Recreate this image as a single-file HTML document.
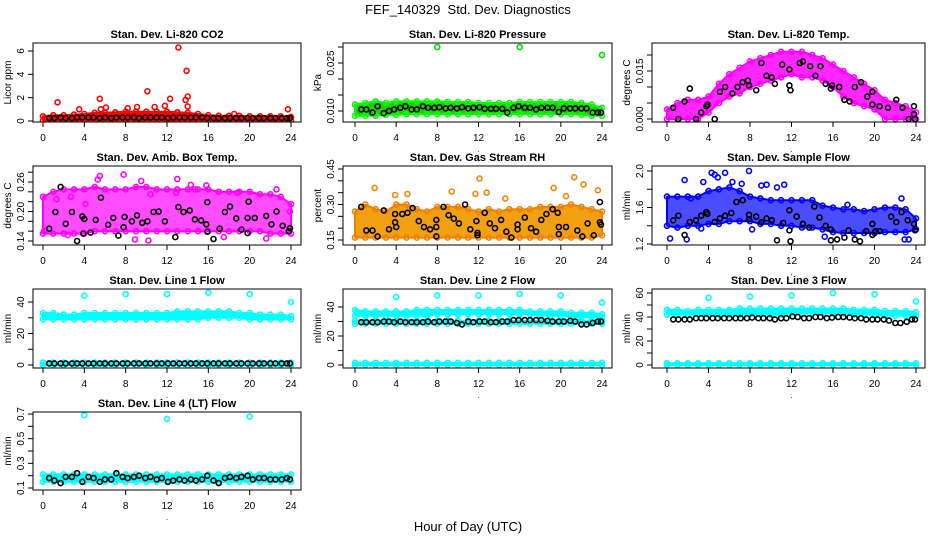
<!DOCTYPE html>
<html><head><meta charset="utf-8"><style>
body{margin:0;background:#fff;}
svg{font-family:"Liberation Sans",sans-serif;}
</style></head><body>
<svg id="c" width="936" height="540" viewBox="0 0 936 540" xmlns="http://www.w3.org/2000/svg">
<text x="468" y="14" text-anchor="middle" font-size="13" style="white-space:pre">FEF_140329  Std. Dev. Diagnostics</text>
<text x="468" y="531" text-anchor="middle" font-size="13">Hour of Day (UTC)</text>
</svg>
<script>
// ---- data ----
const bandHours=[0,1,2,3,4,5,6,7,8,9,10,11,12,13,14,15,16,17,18,19,20,21,22,23,24];
const blackHours=[0.6,1.1,1.7,2.2,2.8,3.3,3.8,4.4,4.9,5.5,6.0,6.6,7.1,7.7,8.2,8.8,9.3,9.9,10.4,11.0,11.5,12.1,12.6,13.2,13.7,14.3,14.8,15.4,15.9,16.5,17.0,17.6,18.1,18.7,19.2,19.8,20.3,20.9,21.4,22.0,22.5,23.1,23.6,23.9];

const co2Lo=[0.05,0.05,0.05,0.05,0.05,0.05,0.05,0.05,0.05,0.05,0.05,0.05,0.05,0.05,0.05,0.05,0.05,0.05,0.05,0.05,0.05,0.05,0.05,0.05,0.05];
const co2Hi=[0.4,0.5,0.5,0.55,0.6,0.7,0.7,0.75,0.8,0.8,0.8,0.8,0.8,0.75,0.7,0.6,0.5,0.45,0.45,0.45,0.4,0.4,0.4,0.4,0.35];
const co2Black=[0.25,0.25,0.3,0.25,0.25,0.3,0.3,0.3,0.3,0.25,0.3,0.25,0.3,0.3,0.3,0.3,0.25,0.3,0.3,0.3,0.3,0.25,0.3,0.3,0.3,0.3,0.3,0.3,0.25,0.25,0.25,0.25,0.25,0.25,0.25,0.25,0.25,0.25,0.25,0.25,0.25,0.25,0.25,0.25];
const co2OutH=[1.4,3.5,5.5,5.6,6.1,8.2,9.1,10.1,10.8,11.8,12.3,13.1,13.9,13.8,14.0,14.0,18.5,23.7];
const co2OutV=[1.6,1.0,1.9,1.0,1.15,1.1,1.2,2.55,1.2,1.3,1.9,6.3,4.3,1.8,2.1,1.25,0.6,1.0];

const presLo=[0.0085,0.0085,0.0085,0.0088,0.0088,0.009,0.009,0.009,0.009,0.009,0.009,0.009,0.009,0.009,0.009,0.009,0.009,0.009,0.009,0.009,0.009,0.009,0.0088,0.0085,0.0085];
const presHi=[0.012,0.0125,0.013,0.0125,0.013,0.013,0.013,0.013,0.013,0.0128,0.0128,0.0128,0.0125,0.0125,0.0125,0.0125,0.0128,0.0128,0.0128,0.0128,0.0128,0.0128,0.0125,0.012,0.011];
const presBlack=[0.0105,0.0105,0.0095,0.0115,0.0093,0.01,0.0105,0.011,0.0115,0.0105,0.0105,0.0115,0.011,0.011,0.0112,0.0108,0.011,0.0108,0.0112,0.0108,0.011,0.0112,0.0107,0.0107,0.0107,0.0107,0.0095,0.011,0.0115,0.011,0.011,0.0105,0.011,0.011,0.011,0.0097,0.0108,0.0108,0.0108,0.0108,0.0108,0.0095,0.0095,0.0095];
const presOutH=[8.0,16.0,24.0];
const presOutV=[0.030,0.030,0.0275];

const tempLo=[0,0,0,0,0.002,0.005,0.007,0.008,0.010,0.011,0.012,0.013,0.014,0.013,0.013,0.012,0.010,0.007,0.005,0.004,0.003,0,0,0,0];
const tempHi=[0.003,0.005,0.006,0.006,0.007,0.011,0.014,0.016,0.018,0.019,0.020,0.021,0.021,0.021,0.020,0.019,0.017,0.015,0.013,0.011,0.009,0.006,0.005,0.004,0.002];
const tempBlackH=[0.6,1.1,2.2,1.7,2.8,3.3,3.8,3.9,4.6,5.1,5.6,6.3,6.8,7.3,7.8,7.9,8.6,9.1,9.6,10.1,10.4,11.1,11.8,11.8,11.9,12.8,13.1,13.8,14.3,14.8,15.3,15.8,15.9,16.6,17.1,17.6,18.1,18.7,19.3,19.8,19.8,20.5,21.3,22.1,22.7,23.3,23.8,23.8,23.9];
const tempBlackV=[0.0035,0,0.0095,0.0055,0,0.002,0.004,0.0045,0,0.0085,0.010,0.008,0.010,0.0115,0.012,0.0105,0.009,0.0175,0.0135,0.013,0.011,0.017,0.0155,0.0105,0.009,0.0175,0.018,0.0165,0.0135,0.0165,0.011,0.0095,0.0105,0.010,0.006,0.0055,0.010,0.0115,0.007,0.0085,0.0045,0.004,0.0035,0.006,0.0035,0,0.004,0.0015,0];

const ambLo=[0.155,0.155,0.155,0.155,0.155,0.16,0.16,0.16,0.16,0.16,0.16,0.16,0.16,0.16,0.16,0.16,0.16,0.16,0.16,0.16,0.16,0.16,0.155,0.155,0.155];
const ambHi=[0.23,0.24,0.245,0.245,0.245,0.25,0.245,0.245,0.245,0.25,0.25,0.245,0.245,0.245,0.245,0.245,0.245,0.24,0.24,0.24,0.24,0.235,0.235,0.23,0.215];
const ambBlackH=[0.6,1.2,1.7,2.2,2.8,3.3,3.8,3.9,4.0,4.6,5.1,5.6,6.3,6.8,7.3,7.8,7.9,8.6,9.1,9.6,10.1,10.7,11.2,11.8,12.8,13.1,13.6,14.2,14.7,15.3,15.8,15.9,15.9,16.5,17.1,17.6,18.1,18.7,19.2,19.8,19.8,19.9,20.5,21.6,22.1,22.6,23.2,23.8,23.9];
const ambBlackV=[0.165,0.199,0.25,0.175,0.199,0.14,0.19,0.155,0.185,0.157,0.183,0.228,0.173,0.187,0.151,0.168,0.189,0.18,0.192,0.177,0.18,0.199,0.2,0.18,0.148,0.209,0.199,0.202,0.184,0.182,0.174,0.219,0.159,0.144,0.165,0.199,0.21,0.186,0.163,0.156,0.187,0.22,0.187,0.191,0.174,0.2,0.171,0.16,0.166];
const ambOutH=[0.1,1.3,2.4,2.7,4.1,5.3,5.5,7.8,8.9,10.2,9.5,10.4,13.0,12.9,14.3,14.7,15.8,17.5,18.8,21.6,22.6,23.9];
const ambOutV=[0.16,0.225,0.152,0.23,0.215,0.265,0.272,0.275,0.143,0.141,0.262,0.235,0.266,0.238,0.254,0.245,0.253,0.148,0.238,0.145,0.245,0.2];

const rhLo=[0.16,0.16,0.16,0.16,0.16,0.16,0.16,0.16,0.16,0.16,0.16,0.16,0.16,0.16,0.16,0.16,0.16,0.16,0.16,0.16,0.16,0.16,0.16,0.16,0.17];
const rhHi=[0.27,0.3,0.28,0.27,0.3,0.3,0.28,0.27,0.29,0.29,0.29,0.28,0.27,0.28,0.27,0.28,0.28,0.28,0.29,0.29,0.29,0.3,0.29,0.28,0.27];
const rhBlackH=[0.6,1.1,1.7,2.2,2.8,3.3,3.9,3.9,4.0,4.6,5.1,5.6,6.2,6.7,7.3,7.9,7.9,7.9,8.6,9.1,9.6,10.1,10.7,11.2,11.8,11.9,11.9,12.6,13.1,13.6,14.2,14.7,15.2,15.8,15.8,16.5,17.1,17.6,18.1,18.6,19.2,19.7,19.8,19.8,20.5,21.6,22.1,22.6,23.2,23.8,23.8,23.9];
const rhBlackV=[0.29,0.19,0.19,0.165,0.275,0.195,0.26,0.225,0.205,0.26,0.265,0.285,0.23,0.205,0.195,0.235,0.205,0.165,0.29,0.255,0.24,0.22,0.3,0.195,0.23,0.18,0.17,0.265,0.22,0.2,0.235,0.185,0.16,0.195,0.215,0.245,0.2,0.185,0.235,0.26,0.28,0.265,0.205,0.175,0.205,0.19,0.165,0.22,0.17,0.31,0.225,0.215];
const rhOutH=[1.9,3.9,5.1,9.4,11.7,12.1,12.8,14.6,19.3,20.5,21.3,22.2,23.6];
const rhOutV=[0.37,0.34,0.345,0.355,0.345,0.41,0.35,0.325,0.37,0.335,0.415,0.385,0.36];

const flowLo=[1.4,1.38,1.4,1.4,1.42,1.42,1.45,1.45,1.45,1.42,1.42,1.4,1.4,1.38,1.38,1.36,1.33,1.32,1.32,1.32,1.32,1.33,1.33,1.33,1.36];
const flowHi=[1.72,1.72,1.72,1.72,1.78,1.8,1.82,1.78,1.72,1.7,1.68,1.68,1.68,1.68,1.68,1.62,1.6,1.58,1.58,1.56,1.58,1.6,1.6,1.58,1.48];
const flowBlackH=[0.6,1.1,1.7,2.2,2.8,3.3,3.8,3.9,4.6,5.1,5.6,6.2,6.7,7.3,7.9,7.9,8.6,9.1,9.6,10.1,10.6,11.2,11.8,11.8,11.9,12.5,13.1,13.7,14.2,14.7,15.3,15.8,15.8,16.4,17.1,17.5,18.1,18.6,19.2,19.8,19.8,20.1,20.5,21.6,22.1,22.6,23.2,23.8,23.9];
const flowBlackV=[1.46,1.51,1.3,1.44,1.46,1.51,1.55,1.53,1.44,1.48,1.51,1.54,1.66,1.68,1.52,1.47,1.5,1.44,1.48,1.46,1.24,1.43,1.57,1.35,1.23,1.5,1.42,1.38,1.61,1.49,1.4,1.36,1.24,1.25,1.27,1.35,1.25,1.23,1.34,1.42,1.3,1.34,1.34,1.5,1.44,1.55,1.46,1.42,1.35];
const flowOutH=[0.3,1.7,1.9,2.3,3.3,3.5,4.3,4.6,4.9,5.6,6.3,7.2,7.9,8.2,9.1,9.6,10.6,11.3,15.2,17.4,22.9,23.3,22.6];
const flowOutV=[1.26,1.9,1.25,1.7,1.37,1.88,1.98,1.96,1.93,1.98,1.88,1.86,2.0,1.36,1.84,1.85,1.82,1.85,1.28,1.63,1.25,1.25,1.7];

const l1Lo=[29,29,29,29,29,29,29,29,29,29,29,29,29,29,29,29,30,30,30,30,29,29,29,29,29];
const l1Hi=[33,33,32,32,33,33,33,33,33,33,33,33,33,34,34,34,34,34,34,33,33,32,32,32,31];
const l1Black=[1,1,1,1,1,1,1,1,1,1,1,1,1,1,1,1,1,1,1,1,1,1,1,1,1,1,1,1,1,1,1,1,1,1,1,1,1,1,1,1,1,1,1,1];
const l1OutH=[4,8,12,16,20,24];
const l1OutV=[44,45,45,46,45,40];

const l2Lo=[34,34,34,34,34,34,34,34,35,35,35,35,35,35,35,35,35,35,34,34,34,33,33,33,33];
const l2Hi=[38,37,37,37,37,37,38,38,38,38,38,38,38,38,38,38,38,37,37,37,37,36,36,36,35];
const l2Black=[29.5,29.5,29.5,29.5,30,30,29.5,30,29.5,29.5,29.5,29.5,30,29.5,30,30,30,29,28,30,29.5,30,30,29.5,29.5,30,30,31,31,31,31,31,31,30.5,30,30,30,30.5,30,28,28,29,30,30];
const l2OutH=[4,8,12,16,20,24];
const l2OutV=[47,48,48,49,48,43];

const l3Lo=[42,42,42,42,42,42,42,42,42,42,42,42,43,43,43,43,43,43,42,42,42,41,41,41,41];
const l3Hi=[46,46,45,46,46,46,46,47,47,47,47,47,47,47,47,47,47,47,46,46,46,45,45,45,44];
const l3Black=[38,38,38,38,39,39,39,39,39,39,39,39,39,39,39.5,39,39,39,38,39,39,40.5,40,39,39,40,40,39,39.5,40,40,39.5,39,39,38,38,38,38,37,35,35,36,38,38];
const l3OutH=[4,8,12,16,20,24];
const l3OutV=[56,57,58,60,59,53];

const l4Lo=[0.15,0.15,0.15,0.15,0.15,0.15,0.15,0.15,0.15,0.15,0.15,0.15,0.15,0.15,0.15,0.15,0.15,0.15,0.15,0.15,0.15,0.15,0.15,0.15,0.15];
const l4Hi=[0.21,0.21,0.21,0.21,0.21,0.21,0.21,0.21,0.21,0.21,0.21,0.21,0.21,0.21,0.21,0.21,0.21,0.21,0.21,0.21,0.21,0.21,0.21,0.21,0.21];
const l4Black=[0.18,0.16,0.14,0.19,0.19,0.22,0.15,0.19,0.18,0.15,0.17,0.17,0.22,0.19,0.18,0.19,0.2,0.18,0.19,0.17,0.18,0.15,0.16,0.17,0.16,0.17,0.16,0.17,0.2,0.16,0.14,0.18,0.19,0.18,0.19,0.2,0.17,0.18,0.18,0.17,0.17,0.17,0.18,0.17];
const l4OutH=[4,12,20];
const l4OutV=[0.69,0.66,0.68];

// ---- drawing ----
const NS="http://www.w3.org/2000/svg";
const svg=document.getElementById('c');
function mk(tag,attrs,parent){const e=document.createElementNS(NS,tag);for(const k in attrs)e.setAttribute(k,attrs[k]);(parent||svg).appendChild(e);return e;}
const COLS=[{L:33,R:301,x0:43,x24:291},{L:343,R:612,x0:355,x24:602},{L:652,R:925,x0:667,x24:916}];
const ROWS=[{T:43,B:122},{T:166,B:245},{T:289,B:368},{T:412,B:490}];

function panel(p){
  const c=COLS[p.col],r=ROWS[p.row];
  const g=mk('g',{});
  
  
  const sx=h=>c.x0+(c.x24-c.x0)*h/24;
  const sy=v=>p.p1+(p.p2-p.p1)*(v-p.v1)/(p.v2-p.v1);
  const clip='clip'+p.name;
  const cp=mk('clipPath',{id:clip},g);mk('rect',{x:c.L,y:r.T,width:c.R-c.L,height:r.B-r.T},cp);
  const pg=mk('g',{'clip-path':'url(#'+clip+')'},g);
  (p.bands||[]).forEach(b=>{
    let pts=[];
    bandHours.forEach((h,i)=>pts.push(sx(h).toFixed(1)+','+sy(b.hi[i]).toFixed(1)));
    for(let i=bandHours.length-1;i>=0;i--)pts.push(sx(bandHours[i]).toFixed(1)+','+sy(b.lo[i]).toFixed(1));
    const e=mk('polygon',{points:pts.join(' '),fill:b.fill,'fill-opacity':b.op||1,stroke:b.stroke,'stroke-width':2,'stroke-linejoin':'round'},pg);
    
    
    bandHours.forEach((h,i)=>{
      [b.hi[i],b.lo[i]].forEach(v=>{
        const ring=mk('circle',{cx:sx(h).toFixed(1),cy:sy(v).toFixed(1),r:2.5,fill:'none',stroke:b.stroke,'stroke-width':1.6},pg);
        
        
      });
    });
  });
  (p.pts||[]).forEach(s=>{
    s.h.forEach((h,i)=>{
      const e=mk('circle',{cx:sx(h).toFixed(1),cy:sy(s.v[i]).toFixed(1),r:2.5,fill:'none',stroke:s.color,'stroke-width':1.6},pg);
      
      
    });
  });
  mk('rect',{x:c.L,y:r.T,width:c.R-c.L,height:r.B-r.T,fill:'none',stroke:'#000','stroke-width':1},g);
  const t=mk('text',{x:(c.L+c.R)/2,y:r.T-5,'text-anchor':'middle','font-size':11,'font-weight':'bold'},g);t.textContent=p.title;
  
  
  mk('line',{x1:sx(0),x2:sx(24),y1:r.B,y2:r.B,stroke:'#000'},g);
  for(let h=0;h<=24;h+=4){
    mk('line',{x1:sx(h),x2:sx(h),y1:r.B,y2:r.B+5,stroke:'#000'},g);
    const tx=mk('text',{x:sx(h),y:r.B+19,'text-anchor':'middle','font-size':10},g);tx.textContent=h;
  }
  const dot=mk('text',{x:sx(12),y:r.B+30,'text-anchor':'middle','font-size':8},g);dot.textContent='.';
  const yl=c.L;
  mk('line',{x1:yl,x2:yl,y1:sy(p.ticks[0]),y2:sy(p.ticks[p.ticks.length-1]),stroke:'#000'},g);
  p.ticks.forEach(v=>mk('line',{x1:yl-5,x2:yl,y1:sy(v),y2:sy(v),stroke:'#000'},g));
  p.labels.forEach((lb,i)=>{
    const y=sy(p.labelVals[i]);
    const tx=mk('text',{x:yl-9,y:y,'text-anchor':'middle','font-size':10,transform:'rotate(-90 '+(yl-9)+' '+y+')'},g);tx.textContent=lb;
  });
  const my=(r.T+r.B)/2;
  const yt=mk('text',{x:yl-22,y:my,'text-anchor':'middle','font-size':10,transform:'rotate(-90 '+(yl-22)+' '+my+')'},g);yt.textContent=p.ylab;
  
  
}
const MAG='#ff00ff',BLK='#000';
panel({name:'co2-panel',col:0,row:0,title:'Stan. Dev. Li-820 CO2',ylab:'Licor ppm',v1:0,p1:121,v2:6,p2:51,
 ticks:[0,2,4,6],labels:['0','2','4','6'],labelVals:[0,2,4,6],
 bands:[{lo:co2Lo,hi:co2Hi,fill:'#ff0000',stroke:'#ff0000'}],
 pts:[{h:co2OutH,v:co2OutV,color:'#ff0000'},{h:blackHours,v:co2Black,color:BLK}]});
panel({name:'pressure-panel',col:1,row:0,title:'Stan. Dev. Li-820 Pressure',ylab:'kPa',v1:0.010,p1:111,v2:0.025,p2:63,
 ticks:[0.010,0.015,0.020,0.025,0.030],labels:['0.010','0.025'],labelVals:[0.010,0.025],
 bands:[{lo:presLo,hi:presHi,fill:'#22cc00',stroke:'#00ff00'}],
 pts:[{h:presOutH,v:presOutV,color:'#00dd00'},{h:blackHours,v:presBlack,color:BLK}]});
panel({name:'li820-temp-panel',col:2,row:0,title:'Stan. Dev. Li-820 Temp.',ylab:'degrees C',v1:0,p1:119,v2:0.015,p2:71,
 ticks:[0,0.005,0.010,0.015,0.020],labels:['0.000','0.015'],labelVals:[0,0.015],
 bands:[{lo:tempLo,hi:tempHi,fill:MAG,stroke:MAG,op:0.85}],
 pts:[{h:tempBlackH,v:tempBlackV,color:BLK}]});
panel({name:'amb-box-temp-panel',col:0,row:1,title:'Stan. Dev. Amb. Box Temp.',ylab:'degrees C',v1:0.14,p1:241,v2:0.26,p2:182,
 ticks:[0.14,0.16,0.18,0.20,0.22,0.24,0.26,0.28],labels:['0.14','0.20','0.26'],labelVals:[0.14,0.20,0.26],
 bands:[{lo:ambLo,hi:ambHi,fill:MAG,stroke:MAG,op:0.7}],
 pts:[{h:ambOutH,v:ambOutV,color:MAG},{h:ambBlackH,v:ambBlackV,color:BLK}]});
panel({name:'gas-rh-panel',col:1,row:1,title:'Stan. Dev. Gas Stream RH',ylab:'percent',v1:0.15,p1:240,v2:0.45,p2:169,
 ticks:[0.15,0.20,0.25,0.30,0.35,0.40,0.45],labels:['0.15','0.30','0.45'],labelVals:[0.15,0.30,0.45],
 bands:[{lo:rhLo,hi:rhHi,fill:'#f0a010',stroke:'#f08000'}],
 pts:[{h:rhOutH,v:rhOutV,color:'#ee8800'},{h:rhBlackH,v:rhBlackV,color:BLK}]});
panel({name:'sample-flow-panel',col:2,row:1,title:'Stan. Dev. Sample Flow',ylab:'ml/min',v1:1.2,p1:244,v2:2.0,p2:171,
 ticks:[1.2,1.4,1.6,1.8,2.0],labels:['1.2','1.6','2.0'],labelVals:[1.2,1.6,2.0],
 bands:[{lo:flowLo,hi:flowHi,fill:'#0000ff',stroke:'#0000ff',op:0.7}],
 pts:[{h:flowOutH,v:flowOutV,color:'#0000ff'},{h:flowBlackH,v:flowBlackV,color:BLK}]});
const CY='#00ffff';
const zeroLo=bandHours.map(()=>0), zeroHi=bandHours.map(()=>1.5);
panel({name:'line1-flow-panel',col:0,row:2,title:'Stan. Dev. Line 1 Flow',ylab:'ml/min',v1:0,p1:365,v2:40,p2:302,
 ticks:[0,10,20,30,40],labels:['0','20','40'],labelVals:[0,20,40],
 bands:[{lo:l1Lo,hi:l1Hi,fill:CY,stroke:CY},{lo:zeroLo,hi:zeroHi,fill:CY,stroke:CY}],
 pts:[{h:l1OutH,v:l1OutV,color:CY},{h:blackHours,v:l1Black,color:BLK}]});
const l2LowLo=bandHours.map(()=>28.5), l2LowHi=bandHours.map(()=>30.5);
panel({name:'line2-flow-panel',col:1,row:2,title:'Stan. Dev. Line 2 Flow',ylab:'ml/min',v1:0,p1:365,v2:40,p2:307,
 ticks:[0,10,20,30,40],labels:['0','20','40'],labelVals:[0,20,40],
 bands:[{lo:l2Lo,hi:l2Hi,fill:CY,stroke:CY},{lo:l2LowLo,hi:l2LowHi,fill:CY,stroke:CY},{lo:zeroLo,hi:zeroHi,fill:CY,stroke:CY}],
 pts:[{h:l2OutH,v:l2OutV,color:CY},{h:blackHours,v:l2Black,color:BLK}]});
panel({name:'line3-flow-panel',col:2,row:2,title:'Stan. Dev. Line 3 Flow',ylab:'ml/min',v1:0,p1:365,v2:60,p2:293,
 ticks:[0,10,20,30,40,50,60],labels:['0','20','40','60'],labelVals:[0,20,40,60],
 bands:[{lo:l3Lo,hi:l3Hi,fill:CY,stroke:CY},{lo:zeroLo,hi:zeroHi,fill:CY,stroke:CY}],
 pts:[{h:l3OutH,v:l3OutV,color:CY},{h:blackHours,v:l3Black,color:BLK}]});
panel({name:'line4-flow-panel',col:0,row:3,title:'Stan. Dev. Line 4 (LT) Flow',ylab:'ml/min',v1:0.1,p1:488,v2:0.7,p2:414,
 ticks:[0.1,0.2,0.3,0.4,0.5,0.6,0.7],labels:['0.1','0.3','0.5','0.7'],labelVals:[0.1,0.3,0.5,0.7],
 bands:[{lo:l4Lo,hi:l4Hi,fill:CY,stroke:CY}],
 pts:[{h:l4OutH,v:l4OutV,color:CY},{h:blackHours,v:l4Black,color:BLK}]});
</script>
</body></html>
